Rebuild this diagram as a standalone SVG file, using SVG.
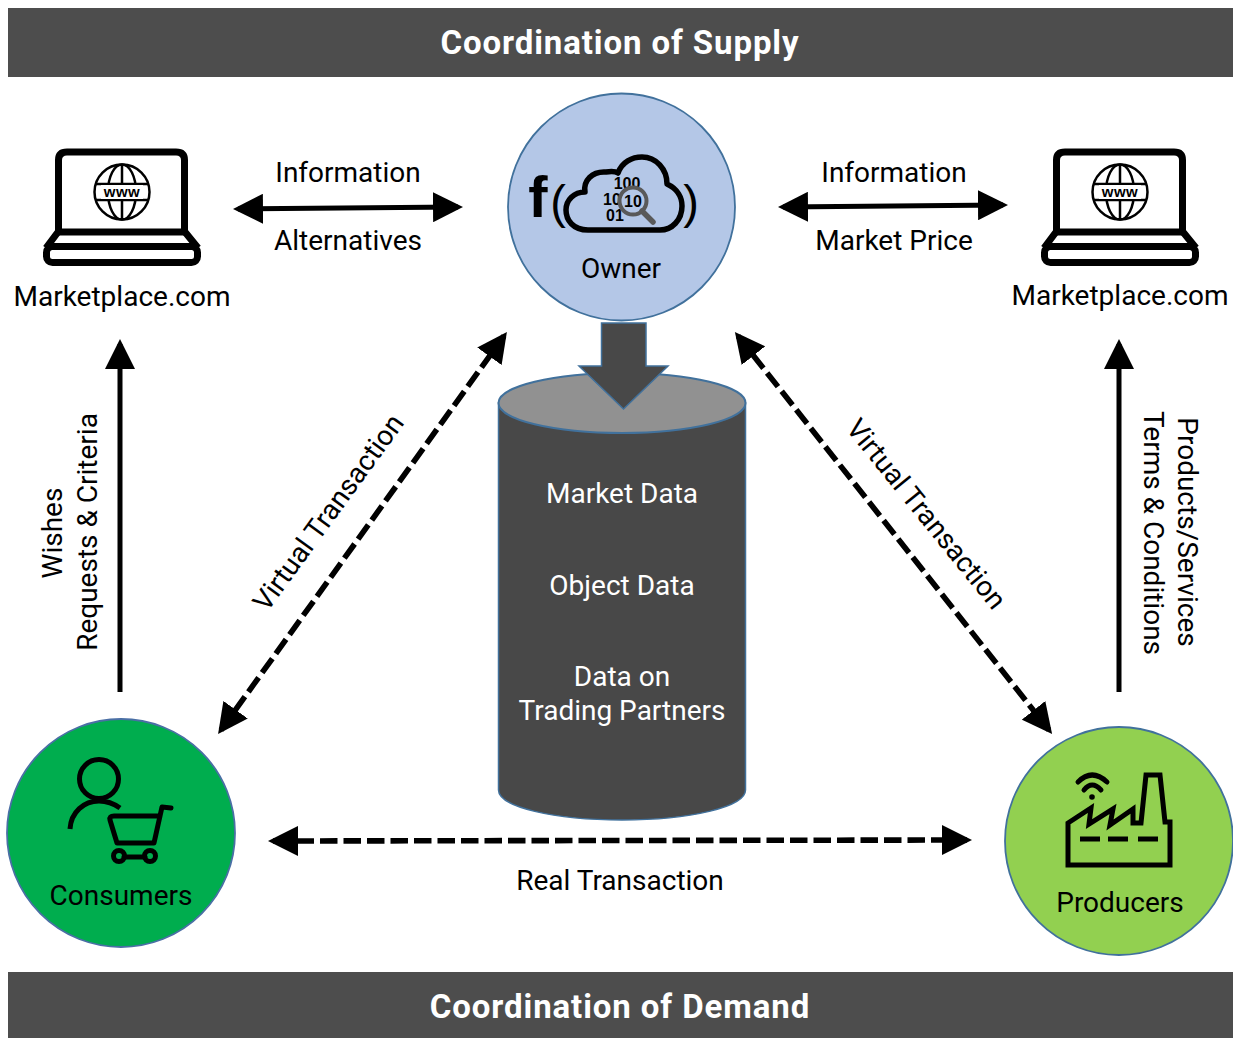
<svg xmlns="http://www.w3.org/2000/svg" width="1233" height="1038" viewBox="0 0 1233 1038">
<style>
text{font-family:Roboto,"Liberation Sans",sans-serif;font-size:28px;fill:#000;text-anchor:middle}
.banner{fill:#4d4d4d}
.title{font-size:33px;font-weight:700;fill:#fff;letter-spacing:.9px}
.w{fill:#fff}
.mono{font-family:"Liberation Sans",sans-serif;font-weight:700}
.icon{fill:none;stroke:#000;stroke-width:7;stroke-linejoin:round}
.thin{fill:none;stroke:#000;stroke-width:5;stroke-linejoin:round;stroke-linecap:round}
.ln{fill:none;stroke:#000;stroke-width:5}
.dash{stroke-width:5.600;stroke-dasharray:17.500 6}
</style>
<defs>
<marker id="h" viewBox="0 0 30 30" refX="25" refY="15" markerWidth="30" markerHeight="30" markerUnits="userSpaceOnUse" orient="auto-start-reverse"><polygon points="0,0 30,15 0,30"/></marker>
<g id="laptop">
<path d="M58.500 232V160Q58.500 152 67 152H176Q184.500 152 184.500 160V232Z" class="icon"/>
<path d="M58 232L46 248M185 232L198 248" class="icon"/>
<rect x="46.500" y="246.500" width="151" height="16" rx="6" class="icon"/>
<circle cx="122" cy="192" r="27.500" fill="none" stroke="#000" stroke-width="2.500"/>
<ellipse cx="122" cy="192" rx="14" ry="27.500" fill="none" stroke="#000" stroke-width="2.500"/>
<path d="M122 164.500V184M122 199V219.500M96 184H148M96 200H148" fill="none" stroke="#000" stroke-width="2.500"/>
<rect x="101" y="185" width="42" height="14" fill="#fff"/>
<text x="122" y="197" class="mono" style="font-size:15px;letter-spacing:.5px">www</text>
</g>
</defs>

<g id="banner-supply"><rect class="banner" x="8" y="8" width="1225" height="69"/><text class="title" x="620" y="54">Coordination of Supply</text></g>
<g id="banner-demand"><rect class="banner" x="8" y="972" width="1225" height="66"/><text class="title" x="620" y="1018">Coordination of Demand</text></g>

<g id="marketplace-left"><use href="#laptop"/><text x="122" y="306">Marketplace.com</text></g>
<g id="marketplace-right"><use href="#laptop" x="998"/><text x="1120" y="305">Marketplace.com</text></g>

<g id="database">
<path d="M498.500 403V790C498.500 807 554 820 622 820S745.500 807 745.500 790V403Z" fill="#484848" stroke="#41719c" stroke-width="1.500"/>
<ellipse cx="622" cy="403" rx="123.500" ry="30" fill="#919191" stroke="#41719c" stroke-width="2"/>
<path d="M601.500 323H646V366H668L623.500 409L579 366H601.500Z" fill="#484848" stroke="#41719c" stroke-width="1.500"/>
<text class="w" x="622" y="503">Market Data</text>
<text class="w" x="622" y="595">Object Data</text>
<text class="w" x="622" y="686">Data on</text>
<text class="w" x="622" y="720">Trading Partners</text>
</g>

<g id="owner">
<circle cx="621.500" cy="207" r="113.500" fill="#b4c7e7" stroke="#41719c" stroke-width="1.800"/>
<text x="538" y="217" class="mono" style="font-size:58px">f</text>
<text x="558" y="218" class="mono" style="font-size:47px;font-weight:400">(</text>
<text x="691" y="218" class="mono" style="font-size:47px;font-weight:400">)</text>
<path d="M588 230C573 230 566 220 566 210C566 200 574 192 585 192C583 181 592 171 606 172C612 171 615 171 618 173C622 162 632 157 642 157C656 157 667 169 667 184C678 189 682 198 682 206C682 220 672 230 660 230Z" fill="none" stroke="#000" stroke-width="5.500" stroke-linejoin="round"/>
<text x="627" y="189" class="mono" style="font-size:16px">100</text>
<text x="612" y="205" class="mono" style="font-size:16px">10</text>
<text x="615" y="221" class="mono" style="font-size:16px">01</text>
<circle cx="633" cy="201" r="13.500" fill="#b4c7e7" stroke="#595959" stroke-width="4"/>
<text x="633" y="207" class="mono" style="font-size:16px">10</text>
<path d="M642 211L653 222" stroke="#595959" stroke-width="5.500" stroke-linecap="round"/>
<text x="621" y="278">Owner</text>
</g>

<g id="consumers">
<circle cx="121" cy="833" r="114" fill="#00ad4e" stroke="#4a6fa5" stroke-width="1.800"/>
<circle cx="99" cy="779" r="19.500" class="thin"/>
<path d="M70 829C71 812 84 801 99 801C106 801 113 803 120 808" class="thin" style="stroke-linecap:butt"/>
<path d="M171 808L162 807L154 843H117L110 820Q109 816 114 816H158" class="thin"/>
<path d="M124 857H145" class="thin"/>
<circle cx="119" cy="856" r="5.500" class="thin"/>
<circle cx="150" cy="856" r="5.500" class="thin"/>
<text x="121" y="905">Consumers</text>
</g>

<g id="producers">
<circle cx="1119" cy="841" r="114" fill="#92d050" stroke="#41719c" stroke-width="1.800"/>
<path d="M1068 865V823L1091 808L1089 824L1113 809L1110 825L1133 809V823H1141L1146 775H1160L1165 822H1170V865Z" fill="none" stroke="#000" stroke-width="5" stroke-linejoin="miter"/>
<path d="M1080 839H1100M1108 839H1128M1138 839H1158" stroke="#000" stroke-width="5" fill="none"/>
<circle cx="1092" cy="797" r="2.800"/>
<path d="M1084 790Q1092 780 1101 790M1078 782Q1092 768 1107 782" class="thin"/>
<text x="1120" y="912">Producers</text>
</g>

<g id="connectors">
<path class="ln" d="M238 209L458 207" marker-start="url(#h)" marker-end="url(#h)"/>
<path class="ln" d="M783 207L1003 205" marker-start="url(#h)" marker-end="url(#h)"/>
<path class="ln" d="M120 692V344" marker-end="url(#h)"/>
<path class="ln" d="M1119 692V344" marker-end="url(#h)"/>
<path class="ln dash" d="M221 730L504 336" marker-start="url(#h)" marker-end="url(#h)"/>
<path class="ln dash" d="M738 336L1049 730" marker-start="url(#h)" marker-end="url(#h)"/>
<path class="ln dash" d="M273 841L967 840" marker-start="url(#h)" marker-end="url(#h)"/>
</g>

<g id="labels">
<text x="348" y="182">Information</text>
<text x="348" y="250">Alternatives</text>
<text x="894" y="182">Information</text>
<text x="894" y="250">Market Price</text>
<text x="620" y="890">Real Transaction</text>
<text transform="translate(62 533) rotate(-90)">Wishes</text>
<text transform="translate(97 532) rotate(-90)">Requests &amp; Criteria</text>
<text transform="translate(1178 532) rotate(90)">Products/Services</text>
<text transform="translate(1144 533) rotate(90)">Terms &amp; Conditions</text>
<text transform="translate(336 518) rotate(-54)">Virtual Transaction</text>
<text transform="translate(919 520) rotate(51)">Virtual Transaction</text>
</g>
</svg>
